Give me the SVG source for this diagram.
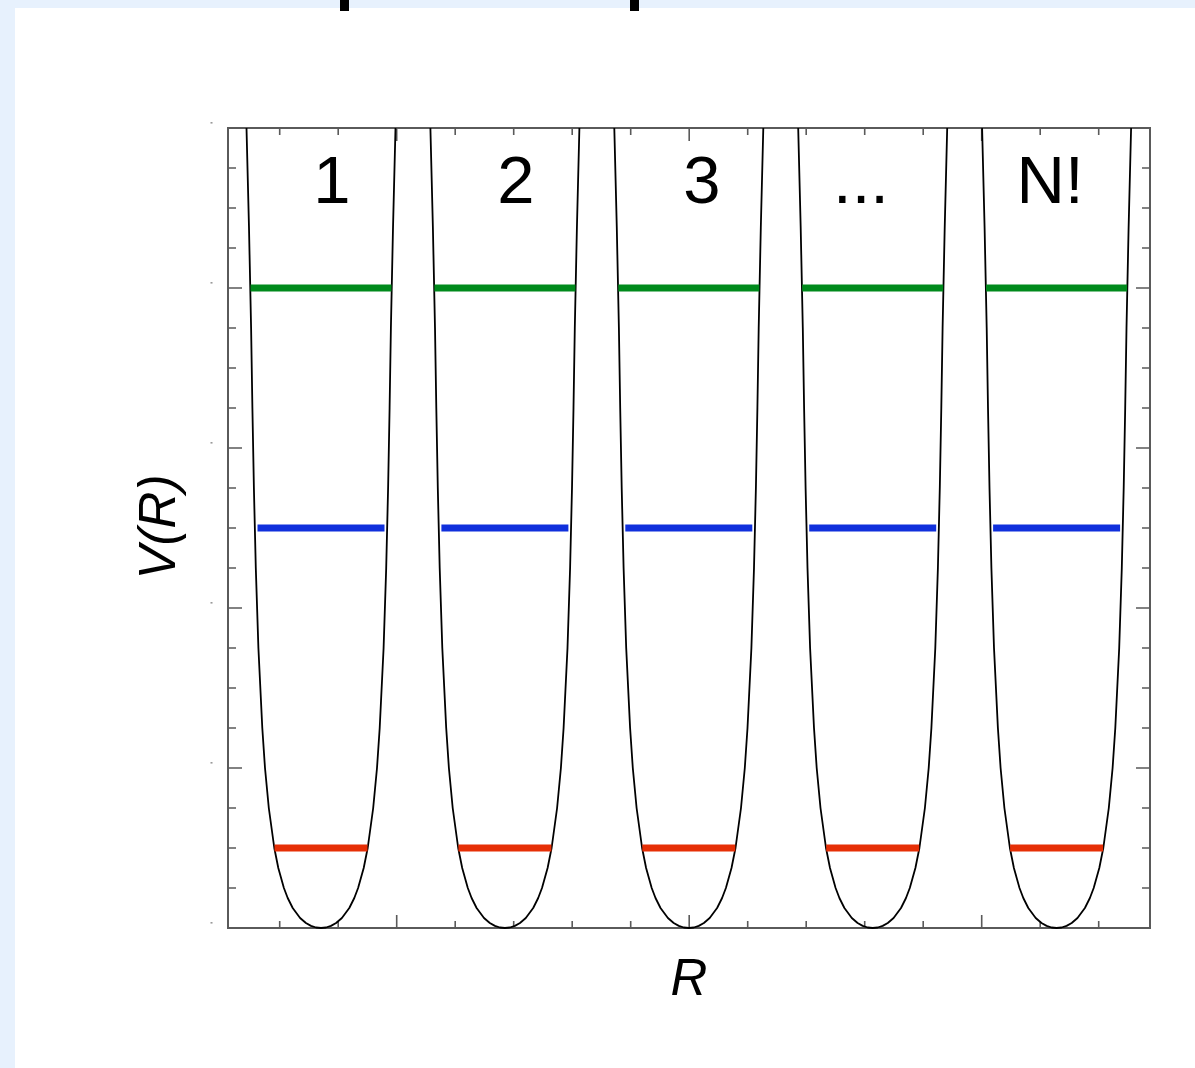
<svg xmlns="http://www.w3.org/2000/svg" width="1195" height="1068" viewBox="0 0 1195 1068">
<style>
.frame{fill:none;stroke:#5a5a5a;stroke-width:2}
.tick{stroke:#5a5a5a;stroke-width:1.6}
.curve{fill:none;stroke:#000;stroke-width:1.8;stroke-linejoin:round}
.green{stroke:#008a1c;stroke-width:7}
.blue{stroke:#1030dc;stroke-width:7}
.red{stroke:#e62f06;stroke-width:7}
.lbl{font-family:"Liberation Sans",Arial,sans-serif;font-size:67px;fill:#000;text-anchor:middle}
.axl{font-family:"Liberation Sans",Arial,sans-serif;font-size:51px;font-style:italic;fill:#000;text-anchor:middle}
.dot{fill:#999}
</style>
<defs>
<path id="well" class="curve" d="M-74.5,-800 L-72,-700 L-69.9,-600 L-68.6,-520 L-67.1,-440 L-65.2,-360 L-62.6,-280 L-58.7,-200 L-56,-160 L-52.2,-120 L-46.7,-80 L-42.7,-60 L-37.1,-40 L-33.3,-30 L-28.3,-20 L-20.9,-10 L-15.1,-5 L-10,-2.1 L-5,-0.5 L0,0 L5,-0.5 L10,-2.1 L15.1,-5 L20.9,-10 L28.3,-20 L33.3,-30 L37.1,-40 L42.7,-60 L46.7,-80 L52.2,-120 L56,-160 L58.7,-200 L62.6,-280 L65.2,-360 L67.1,-440 L68.6,-520 L69.9,-600 L72,-700 L74.5,-800"/>
</defs>
<rect x="0" y="0" width="1195" height="1068" fill="#e7f1fd"/>
<rect x="15" y="8" width="1180" height="1060" fill="#ffffff"/>
<g id="title-fragments" fill="#000">
<rect x="340" y="0" width="9" height="11"/>
<rect x="630" y="0" width="9" height="11"/>
</g>
<g id="axes">
<rect class="frame" x="228" y="128" width="922" height="800"/>
<g class="tick">
<path d="M228,168h8M228,208h8M228,248h8M228,288h14M228,328h8M228,368h8M228,408h8M228,448h14M228,488h8M228,528h8M228,568h8M228,608h14M228,648h8M228,688h8M228,728h8M228,768h14M228,808h8M228,848h8M228,888h8"/>
<path d="M1150,168h-8M1150,208h-8M1150,248h-8M1150,288h-14M1150,328h-8M1150,368h-8M1150,408h-8M1150,448h-14M1150,488h-8M1150,528h-8M1150,568h-8M1150,608h-14M1150,648h-8M1150,688h-8M1150,728h-8M1150,768h-14M1150,808h-8M1150,848h-8M1150,888h-8"/>
<path d="M279.7,128v7M338.2,128v7M396.7,128v13M455.2,128v7M513.7,128v7M572.2,128v7M630.7,128v7M689.2,128v13M747.7,128v7M806.2,128v7M864.7,128v7M923.2,128v7M981.7,128v13M1040.2,128v7M1098.7,128v7"/>
<path d="M279.7,928v-7M338.2,928v-7M396.7,928v-13M455.2,928v-7M513.7,928v-7M572.2,928v-7M630.7,928v-7M689.2,928v-13M747.7,928v-7M806.2,928v-7M864.7,928v-7M923.2,928v-7M981.7,928v-13M1040.2,928v-7M1098.7,928v-7"/>
</g>
<g class="dot">
<rect x="210.5" y="122" width="2" height="1.6"/>
<rect x="210.5" y="282" width="2" height="1.6"/>
<rect x="210.5" y="442" width="2" height="1.6"/>
<rect x="210.5" y="602" width="2" height="1.6"/>
<rect x="210.5" y="762" width="2" height="1.6"/>
<rect x="210.5" y="922" width="2" height="1.6"/>
</g>
<text class="axl" x="689" y="995">R</text>
<text class="axl" transform="translate(175,527) rotate(-90)" x="0" y="0">V(R)</text>
</g>
<g id="well-1">
<use href="#well" transform="translate(321,928)"/>
<line class="green" x1="250.5" y1="288" x2="391.5" y2="288"/>
<line class="blue" x1="257.5" y1="528" x2="384.5" y2="528"/>
<line class="red" x1="274.5" y1="848" x2="367.5" y2="848"/>
<text class="lbl" x="332" y="203">1</text>
</g>
<g id="well-2">
<use href="#well" transform="translate(504.9,928)"/>
<line class="green" x1="434.4" y1="288" x2="575.4" y2="288"/>
<line class="blue" x1="441.4" y1="528" x2="568.4" y2="528"/>
<line class="red" x1="458.4" y1="848" x2="551.4" y2="848"/>
<text class="lbl" x="516" y="203">2</text>
</g>
<g id="well-3">
<use href="#well" transform="translate(688.8,928)"/>
<line class="green" x1="618.3" y1="288" x2="759.3" y2="288"/>
<line class="blue" x1="625.3" y1="528" x2="752.3" y2="528"/>
<line class="red" x1="642.3" y1="848" x2="735.3" y2="848"/>
<text class="lbl" x="702" y="203">3</text>
</g>
<g id="well-4">
<use href="#well" transform="translate(872.7,928)"/>
<line class="green" x1="802.2" y1="288" x2="943.2" y2="288"/>
<line class="blue" x1="809.2" y1="528" x2="936.2" y2="528"/>
<line class="red" x1="826.2" y1="848" x2="919.2" y2="848"/>
<text class="lbl" x="861" y="203">...</text>
</g>
<g id="well-n">
<use href="#well" transform="translate(1056.6,928)"/>
<line class="green" x1="986.1" y1="288" x2="1127.1" y2="288"/>
<line class="blue" x1="993.1" y1="528" x2="1120.1" y2="528"/>
<line class="red" x1="1010.1" y1="848" x2="1103.1" y2="848"/>
<text class="lbl" x="1050" y="203">N!</text>
</g>
</svg>
